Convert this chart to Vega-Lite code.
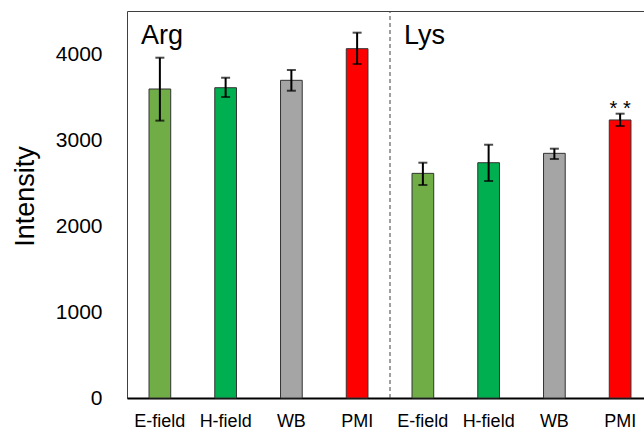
{
  "$schema": "https://vega.github.io/schema/vega-lite/v6.json",
  "autosize": "none",
  "padding": {"left": 127, "top": 11, "right": 0, "bottom": 31},
  "width": 526,
  "height": 387,
  "config": {
    "view": {"stroke": "#404040", "strokeWidth": 1},
    "font": "Liberation Sans"
  },
  "data": {
    "values": [
      {"key": "Arg|E-field", "group": "Arg", "cond": "E-field", "mean": 3593, "lo": 3225, "hi": 3957, "sig": ""},
      {"key": "Arg|H-field", "group": "Arg", "cond": "H-field", "mean": 3608, "lo": 3500, "hi": 3724, "sig": ""},
      {"key": "Arg|WB", "group": "Arg", "cond": "WB", "mean": 3694, "lo": 3573, "hi": 3814, "sig": ""},
      {"key": "Arg|PMI", "group": "Arg", "cond": "PMI", "mean": 4062, "lo": 3884, "hi": 4248, "sig": ""},
      {"key": "Lys|E-field", "group": "Lys", "cond": "E-field", "mean": 2612, "lo": 2477, "hi": 2736, "sig": ""},
      {"key": "Lys|H-field", "group": "Lys", "cond": "H-field", "mean": 2736, "lo": 2523, "hi": 2945, "sig": ""},
      {"key": "Lys|WB", "group": "Lys", "cond": "WB", "mean": 2845, "lo": 2779, "hi": 2899, "sig": ""},
      {"key": "Lys|PMI", "group": "Lys", "cond": "PMI", "mean": 3233, "lo": 3163, "hi": 3306, "sig": "* *"}
    ]
  },
  "encoding": {
    "x": {
      "field": "key",
      "type": "nominal",
      "sort": null,
      "scale": {"paddingInner": 0, "paddingOuter": 0},
      "axis": {
        "title": null,
        "labelExpr": "split(datum.value, '|')[1]",
        "labelAngle": 0,
        "labelFontSize": 18,
        "labelColor": "#000000",
        "ticks": false,
        "tickSize": 0,
        "labelPadding": 14,
        "domainColor": "#000000",
        "domainWidth": 2,
        "grid": false
      }
    }
  },
  "layer": [
    {
      "mark": {"type": "bar", "width": {"band": 0.33}, "stroke": "#333333", "strokeWidth": 1},
      "encoding": {
        "y": {
          "field": "mean",
          "type": "quantitative",
          "scale": {"domain": [0, 4500], "nice": false},
          "axis": {
            "title": "Intensity",
            "titleFontSize": 27,
            "titleFontWeight": "normal",
            "titleColor": "#000000",
            "titleAngle": -90,
            "titleX": -94,
            "titleY": 185,
            "titleAlign": "center",
            "titleBaseline": "alphabetic",
            "values": [0, 1000, 2000, 3000, 4000],
            "format": "d",
            "grid": false,
            "ticks": false,
            "tickSize": 0,
            "domain": false,
            "labelFontSize": 21,
            "labelPadding": 25,
            "labelColor": "#000000"
          }
        },
        "color": {
          "field": "cond",
          "type": "nominal",
          "scale": {"domain": ["E-field", "H-field", "WB", "PMI"], "range": ["#70AD47", "#00B050", "#A5A5A5", "#FF0000"]},
          "legend": null
        }
      }
    },
    {
      "mark": {"type": "rule", "color": "#000000", "strokeWidth": 2},
      "encoding": {
        "y": {"field": "lo", "type": "quantitative"},
        "y2": {"field": "hi"}
      }
    },
    {
      "mark": {"type": "tick", "color": "#000000", "thickness": 2, "size": 9, "orient": "horizontal"},
      "encoding": {"y": {"field": "lo", "type": "quantitative"}}
    },
    {
      "mark": {"type": "tick", "color": "#000000", "thickness": 2, "size": 9, "orient": "horizontal"},
      "encoding": {"y": {"field": "hi", "type": "quantitative"}}
    },
    {
      "transform": [{"filter": "datum.key === 'Lys|E-field'"}],
      "mark": {"type": "rule", "color": "#404040", "strokeWidth": 1, "strokeDash": [4, 3]},
      "encoding": {
        "x": {"field": "key", "type": "nominal", "sort": null, "bandPosition": 0},
        "y": {"datum": 0, "type": "quantitative"},
        "y2": {"datum": 4500}
      }
    },
    {
      "transform": [{"filter": "datum.cond === 'E-field'"}],
      "mark": {"type": "text", "align": "left", "baseline": "alphabetic", "fontSize": 27, "dx": 14, "color": "#000000"},
      "encoding": {
        "x": {"field": "key", "type": "nominal", "sort": null, "bandPosition": 0},
        "y": {"datum": 4120, "type": "quantitative"},
        "text": {"field": "group"}
      }
    },
    {
      "transform": [{"filter": "datum.sig !== ''"}],
      "mark": {"type": "text", "align": "center", "baseline": "alphabetic", "fontSize": 20, "dy": 1, "color": "#000000"},
      "encoding": {
        "y": {"field": "hi", "type": "quantitative"},
        "text": {"field": "sig"}
      }
    }
  ]
}
